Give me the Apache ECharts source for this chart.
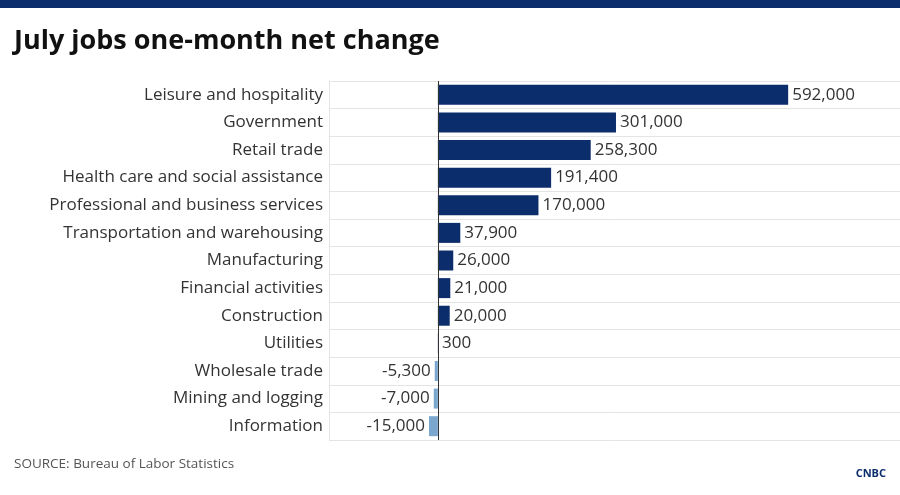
<!DOCTYPE html><html><head><meta charset="utf-8"><script src="https://cdn.jsdelivr.net/npm/echarts@6/dist/echarts.min.js"></script>
<style>body{margin:0}#c{width:900px;height:495px}</style></head><body><div id="c"></div><script>
const categories=["Leisure and hospitality","Government","Retail trade","Health care and social assistance","Professional and business services","Transportation and warehousing","Manufacturing","Financial activities","Construction","Utilities","Wholesale trade","Mining and logging","Information"];
const values=[592000,301000,258300,191400,170000,37900,26000,21000,20000,300,-5300,-7000,-15000];
const c=echarts.init(document.getElementById('c'));
const F='"Open Sans", sans-serif';
c.setOption({animation:false,
graphic:[{type:'rect',shape:{x:0,y:0,width:900,height:8},style:{fill:'#0c2d6b'}},
{type:'text',left:14,top:28,style:{text:'July jobs one-month net change',font:'bold 27px '+F,fill:'#111'}},
{type:'text',left:14,top:457,style:{text:'SOURCE: Bureau of Labor Statistics',font:'13.5px '+F,fill:'#555'}},
{type:'text',right:14,top:468,style:{text:'CNBC',font:'bold 11px '+F,fill:'#0c2d6b'}}],
grid:{left:329,right:0,top:81,bottom:55},
xAxis:{type:'value',min:-184000,max:781000,show:false},
yAxis:{type:'category',inverse:true,data:categories,axisLine:{onZero:false,lineStyle:{color:'#e4e4e4'}},axisTick:{show:false},
axisLabel:{color:'#333',fontSize:17,fontFamily:F,margin:6},splitLine:{show:true,lineStyle:{color:'#e4e4e4'}}},
series:[{type:'bar',barWidth:20,data:values.map(v=>({value:v,itemStyle:{color:v<0?'#7ba7cf':'#0c2d6b'},label:{position:v<0?'left':'right'}})),
label:{show:true,color:'#333',fontSize:17,fontFamily:F,distance:4,formatter:p=>p.value.toLocaleString('en-US')},
markLine:{silent:true,symbol:'none',label:{show:false},lineStyle:{color:'#333',type:'solid',width:1},data:[{xAxis:0}]}}]});
</script></body></html>
